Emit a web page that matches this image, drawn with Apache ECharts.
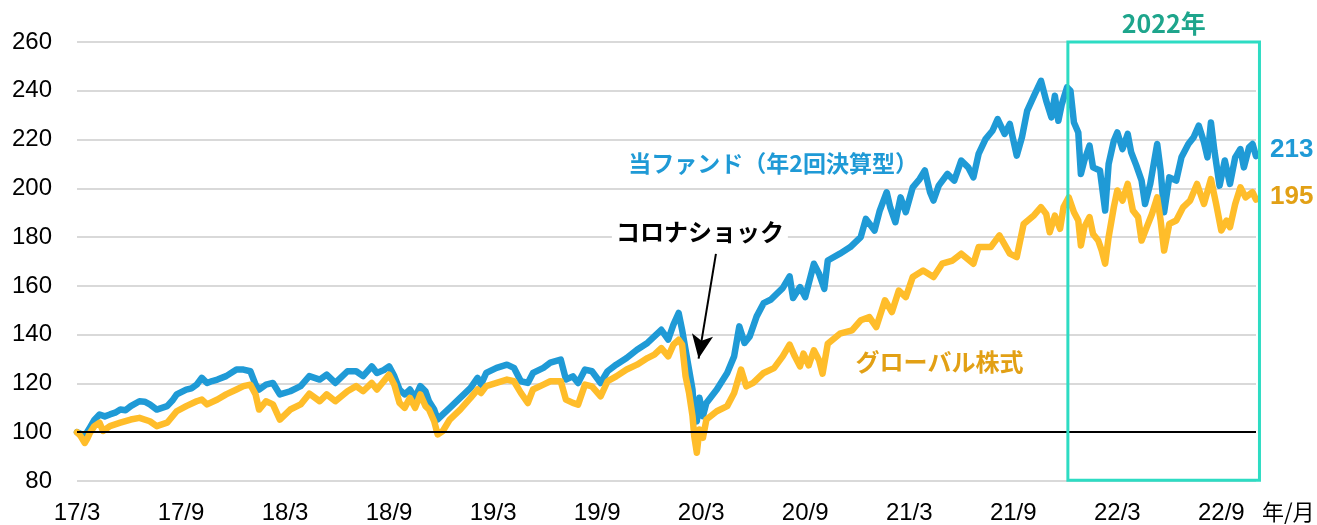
<!DOCTYPE html>
<html><head><meta charset="utf-8">
<script src="https://cdn.jsdelivr.net/npm/echarts/dist/echarts.min.js"></script>
<style>html,body{margin:0;padding:0;background:#fff}#c{width:1317px;height:525px}</style>
</head><body><div id="c"></div>
<script>
// x = months elapsed since end of March 2017 (17/3)
const xTickLabels = ['17/3','17/9','18/3','18/9','19/3','19/9','20/3','20/9','21/3','21/9','22/3','22/9'];
const yTicks = [80,100,120,140,160,180,200,220,240,260];

// 当ファンド（年2回決算型）  [month, index]
const fund = [
[0,100],[0.45,98.5],[0.75,102],[1.0,105],[1.3,107.3],[1.6,106.5],[1.9,107.3],[2.2,108],[2.5,109.3],[2.8,109],
[3.1,110.7],[3.6,112.7],[3.9,112.5],[4.2,111.4],[4.6,109.3],[4.9,110],[5.2,110.7],[5.5,113],[5.75,115.5],[6.3,117.5],
[6.6,118],[6.9,119.5],[7.2,122.3],[7.5,120.2],[7.8,121],[8.1,121.6],[8.6,123],[9.2,125.7],[9.6,125.7],[10.0,125],
[10.3,119.5],[10.5,117.5],[10.9,119.5],[11.3,120.2],[11.7,115.5],[12.3,116.8],[12.9,118.9],[13.4,123],[14.0,121.6],[14.4,123.6],
[14.9,120.2],[15.6,125],[16.1,125],[16.5,123],[17.0,127],[17.3,124.3],[17.7,125.5],[18.0,127],[18.3,123],[18.6,117.5],
[18.9,115.5],[19.2,117.5],[19.5,114.1],[19.8,118.9],[20.1,116.8],[20.3,112.7],[20.6,109.3],[20.8,105.2],[21.1,107.3],[21.5,110],
[22.1,114.1],[22.7,118.2],[23.1,122.3],[23.3,119.5],[23.6,124.3],[24.2,126.4],[24.8,127.7],[25.2,126.4],[25.6,120.9],[26.0,120.2],
[26.3,124.3],[26.9,126.4],[27.3,128.5],[27.9,129.8],[28.2,121.6],[28.6,122.9],[28.9,120.2],[29.3,125.7],[29.7,125],[30.2,120.2],
[30.6,125],[31.1,127.7],[31.7,130.4],[32.3,133.8],[32.9,136.6],[33.3,139.3],[33.7,142],[34.1,138],[34.4,144.1],[34.7,148.9],
[34.9,142],[35.1,133.8],[35.3,125.7],[35.5,117.5],[35.6,106.6],[35.75,104.5],[35.9,114.1],[36.1,106.6],[36.3,112],[36.9,117.5],
[37.5,124.3],[37.9,131.1],[38.2,143.4],[38.5,136.6],[38.8,139.3],[39.2,147.5],[39.6,152.9],[40.0,154.3],[40.4,157],[40.7,159.1],
[41.1,163.9],[41.3,155],[41.7,159.5],[42.0,155.4],[42.5,169.1],[42.8,165],[43.1,158.8],[43.3,170.4],[44.0,173.2],[44.6,175.9],
[45.2,180],[45.5,187.5],[46.0,182.7],[46.3,190.9],[46.7,198.4],[46.9,192.3],[47.2,186.1],[47.5,196.3],[47.8,190.2],[48.2,200.4],
[48.6,203.8],[48.9,207.3],[49.2,198.4],[49.4,195],[49.7,201.1],[50.2,205.9],[50.6,203.2],[51.0,211.4],[51.4,208.6],[51.7,204.5],
[52.0,214.1],[52.4,220.2],[52.8,223.6],[53.1,228.4],[53.5,222.3],[53.8,226.4],[54.2,213.4],[54.5,220.9],[54.8,231.8],[55.2,238],
[55.6,244.1],[55.9,235.9],[56.2,229.1],[56.4,238],[56.6,227.7],[56.8,234.5],[57.1,241.4],[57.3,240],[57.5,227],[57.75,222.9],
[57.9,205.9],[58.1,211.4],[58.4,217.5],[58.6,208.6],[59.0,207.3],[59.3,190.9],[59.5,210],[59.8,219.5],[60.0,222.9],[60.3,216.1],
[60.6,222.3],[60.8,214.8],[61.1,209.3],[61.4,203.2],[61.6,193.6],[61.9,201.8],[62.3,218.2],[62.5,207.3],[62.7,190.2],[63.0,204.5],
[63.4,203.2],[63.7,212.7],[64.1,218.2],[64.4,220.9],[64.7,225.7],[65.0,218.9],[65.2,212.7],[65.4,227],[65.6,215.5],[65.9,201.1],
[66.2,211.4],[66.5,201.8],[66.8,212.7],[67.1,216.1],[67.3,208.6],[67.6,216.8],[67.8,218.2],[68.0,213.2]
];

// グローバル株式  [month, index]
const global = [
[0,100],[0.2,98.5],[0.45,95.6],[0.6,97.5],[0.75,99.8],[1.0,102.5],[1.3,103.9],[1.5,100.5],[1.9,102.5],[2.5,103.9],
[3.1,105.2],[3.6,105.9],[4.2,104.5],[4.6,102.5],[5.2,103.9],[5.75,108.6],[6.3,110.7],[6.9,112.7],[7.2,113.4],[7.5,111.4],
[8.1,113.4],[8.6,115.5],[9.2,117.5],[9.6,118.9],[10.0,119.5],[10.3,115.5],[10.5,109.3],[10.9,112.7],[11.3,111.4],[11.7,105.2],
[12.3,109.3],[12.9,111.4],[13.4,115.8],[14.0,112.7],[14.4,115.5],[14.9,112.7],[15.6,116.8],[16.1,118.9],[16.5,116.8],[17.0,120.2],
[17.3,117.5],[18.0,123.6],[18.3,119.5],[18.6,112.0],[18.9,110.0],[19.2,114.1],[19.5,110.0],[19.8,115.5],[20.1,110.7],[20.3,109.3],
[20.6,104.5],[20.8,99.1],[21.1,100.5],[21.5,105.2],[22.1,109.3],[22.7,114.1],[23.1,117.5],[23.3,116.1],[23.6,118.9],[24.2,120.2],
[24.8,121.6],[25.2,120.9],[25.6,116.1],[26.0,112.0],[26.3,117.5],[26.9,119.5],[27.3,120.9],[27.9,120.9],[28.2,113.4],[28.6,112.0],
[28.9,111.3],[29.3,119.5],[29.7,118.8],[30.2,114.7],[30.6,120.9],[31.1,122.9],[31.7,125.7],[32.3,127.7],[32.9,130.4],[33.3,131.8],
[33.7,134.5],[34.1,131.1],[34.4,135.9],[34.7,137.9],[34.9,135.9],[35.1,122.9],[35.3,116.1],[35.5,106.6],[35.6,98.4],[35.75,91.6],
[35.9,101.1],[36.1,97.7],[36.3,105.2],[36.9,108.6],[37.5,110.7],[37.9,116.1],[38.3,125.7],[38.6,118.8],[39.0,120.2],[39.6,124.3],
[40.2,126.3],[40.7,131.1],[41.1,135.9],[41.4,131.1],[41.7,127.0],[41.9,132.2],[42.2,127.4],[42.5,133.6],[42.8,129.5],[43.0,124.0],
[43.3,136.3],[44.0,140.4],[44.7,141.8],[45.2,145.9],[45.7,147.2],[46.1,143.1],[46.6,154.1],[47.0,149.3],[47.4,158.1],[47.8,155.4],
[48.2,163.6],[48.8,166.3],[49.4,163.6],[49.9,169.1],[50.5,170.4],[51.0,173.2],[51.7,169.1],[52.0,175.9],[52.7,175.9],[53.2,180.7],
[53.8,173.2],[54.2,171.8],[54.6,185.4],[55.2,189],[55.6,192.3],[55.9,189.5],[56.1,182.0],[56.4,188.8],[56.7,183.4],[56.9,192.3],
[57.2,196.3],[57.5,190.2],[57.75,186.8],[57.9,176.6],[58.1,184.1],[58.4,188.2],[58.6,181.3],[58.9,178.6],[59.1,174.5],[59.3,169.1],
[59.5,180],[59.8,192.3],[60.0,199.1],[60.3,195],[60.6,201.8],[60.9,190.9],[61.2,188.2],[61.4,178.6],[61.7,184.1],[62.0,189.5],
[62.3,196.3],[62.5,186.8],[62.7,174.5],[63.0,185.4],[63.4,186.8],[63.8,192.3],[64.2,195],[64.6,201.8],[65.0,193.6],[65.4,203.8],
[65.7,193.6],[66.0,182.7],[66.3,186.8],[66.5,184.1],[66.8,193.6],[67.1,200.4],[67.4,196.3],[67.8,198.4],[68.0,195.4]
];

const BLUE = '#1f9ad6', ORANGE = '#ffbd2a', GOLD = '#e2a015', TEAL = '#1ea58c', TEAL_BOX = '#2ddcc3';
const NUMFONT = '"Liberation Sans", Arial, sans-serif';
const JPFONT = '"Noto Sans CJK JP", "Liberation Sans", sans-serif';

const chart = echarts.init(document.getElementById('c'), null, {renderer: 'canvas'});
const option = {
  animation: false,
  backgroundColor: '#fff',
  grid: {left: 77, right: 61, top: 42, bottom: 43, containLabel: false},
  xAxis: {
    type: 'value', min: 0, max: 68, interval: 6,
    axisLine: {show: false}, axisTick: {show: false}, splitLine: {show: false},
    axisLabel: {
      margin: 20, color: '#000', fontSize: 24, fontFamily: NUMFONT,
      showMaxLabel: false,
      formatter: v => (v % 6 === 0 && xTickLabels[v / 6]) ? xTickLabels[v / 6] : ''
    }
  },
  yAxis: {
    type: 'value', min: yTicks[0], max: yTicks[yTicks.length - 1], interval: 20,
    axisLine: {show: false}, axisTick: {show: false},
    splitLine: {lineStyle: {color: '#d9d9d9', width: 2}},
    axisLabel: {margin: 25, color: '#000', fontSize: 24, fontFamily: NUMFONT}
  },
  series: [
    {
      name: '当ファンド（年2回決算型）', type: 'line', data: fund, showSymbol: false, symbol: 'none',
      lineStyle: {color: BLUE, width: 6.5, join: 'round', cap: 'round'}, itemStyle: {color: BLUE},
      z: 3,
      endLabel: {show: true, formatter: p => Math.round(p.value[1]), color: BLUE, fontSize: 26,
        fontWeight: 'bold', fontFamily: NUMFONT, distance: 14, offset: [0, -6]},
      markLine: {
        silent: true, animation: false,
        label: {show: false},
        data: [
          [{coord: [0, 100], symbol: 'none'}, {coord: [68, 100], symbol: 'none'}]
        ],
        lineStyle: {color: '#000', width: 2, type: 'solid'}
      }
    },
    {
      name: 'グローバル株式', type: 'line', data: global, showSymbol: false, symbol: 'none',
      lineStyle: {color: ORANGE, width: 6.5, join: 'round', cap: 'round'}, itemStyle: {color: ORANGE},
      z: 4,
      endLabel: {show: true, formatter: p => Math.round(p.value[1]), color: GOLD, fontSize: 26,
        fontWeight: 'bold', fontFamily: NUMFONT, distance: 14, offset: [0, -3]},
      markLine: {
        silent: true, animation: false, label: {show: false},
        symbol: ['none', 'arrow'], symbolSize: [16, 24],
        lineStyle: {color: '#000', width: 2, type: 'solid'},
        data: [
          [{coord: [36.85, 173.1], symbol: 'none'}, {coord: [35.85, 130.2], symbol: 'arrow'}]
        ]
      }
    }
  ]
};
chart.setOption(option);

const px = (x, y) => chart.convertToPixel({gridIndex: 0}, [x, y]);
const boxA = px(57.15, 260), boxB = px(68.2, 80.3);
const fundLbl = px(31.8, 210.3);
const coronaLbl = px(30.85, 182.1);
const globLbl = px(44.9, 128.9);
const unitLbl = px(68, 80);

chart.setOption({
  graphic: [
    {type: 'rect', z: 100, silent: true,
      shape: {x: boxA[0], y: boxA[1], width: boxB[0] - boxA[0], height: boxB[1] - boxA[1]},
      style: {fill: 'none', stroke: TEAL_BOX, lineWidth: 3}},
    {type: 'text', z: 100, x: (boxA[0] + boxB[0]) / 2, y: boxA[1] - 6,
      style: {text: '2022年', fill: TEAL, font: 'bold 25px ' + JPFONT, align: 'center', verticalAlign: 'bottom'}},
    {type: 'text', z: 100, x: fundLbl[0], y: fundLbl[1],
      style: {text: '当ファンド（年2回決算型）', fill: BLUE, font: 'bold 23px ' + JPFONT, align: 'left', verticalAlign: 'middle'}},
    {type: 'text', z: 100, x: coronaLbl[0], y: coronaLbl[1],
      style: {text: 'コロナショック', fill: '#000', font: 'bold 24px ' + JPFONT, align: 'left', verticalAlign: 'middle',
        backgroundColor: '#fff', padding: [0, 4, 0, 4]}},
    {type: 'text', z: 100, x: globLbl[0], y: globLbl[1],
      style: {text: 'グローバル株式', fill: GOLD, font: 'bold 24px ' + JPFONT, align: 'left', verticalAlign: 'middle'}},
    {type: 'text', z: 100, x: unitLbl[0] + 6, y: unitLbl[1] + 31,
      style: {text: '年/月', fill: '#000', font: '22px ' + JPFONT, align: 'left', verticalAlign: 'middle'}}
  ]
});
</script>
</body></html>
